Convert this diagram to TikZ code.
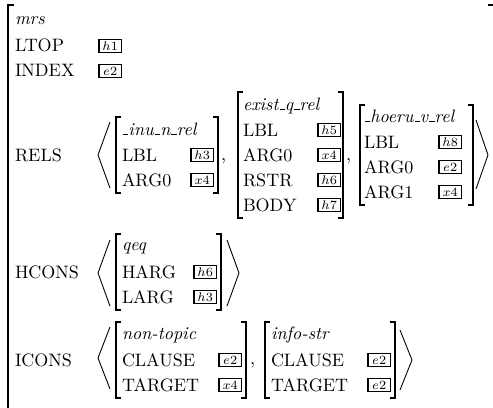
\documentclass[tikz,border=0pt]{standalone}
\makeatletter
\newcommand\us{\leavevmode\kern.06em\vbox{\hrule height 0.55pt width.3em}}
\makeatother
\tikzset{
  lab/.style={anchor=base west, inner sep=0pt, outer sep=0pt},
  typ/.style={lab, font=\itshape},
  tagbox/.style={draw, line width=0.95pt, inner sep=0.8pt, font=\scriptsize, minimum width=12.6pt, minimum height=7.2pt, anchor=west},
  brk/.style={line width=0.6pt, line cap=butt, line join=miter},
  ang/.style={line width=0.5pt, line join=miter}
}
\begin{document}
\begin{tikzpicture}[x=0.5556pt, y=-0.5556pt]
\useasboundingbox (0,0) rectangle (493,407);
% outer bracket
\draw[brk] (14,5) -- (8,5) -- (8,410);
\draw[brk] (488,5) -- (493,5);
% top rows
\node[typ] (mrs) at (15,24) {mrs};
\node[lab] (ltop) at (15,51) {LTOP};
\node[tagbox] (h1) at (98,46) {$h1$};
\node[lab] (index) at (15,76) {INDEX};
\node[tagbox] (e2a) at (98,71) {$e2$};
% RELS
\node[lab] (rels) at (15,161) {RELS};
\draw[ang] (110,122) -- (98,155) -- (110,188);
% _inu_n_rel
\draw[brk] (121,117) -- (116,117) -- (116,193) -- (121,193);
\draw[brk] (213,117) -- (218,117) -- (218,193) -- (213,193);
\node[typ] (inu) at (122,135) {\us inu\us n\us rel};
\node[lab] (inulbl) at (122,161) {LBL};
\node[tagbox] (h3a) at (190,155) {$h3$};
\node[lab] (inuarg) at (122,186) {ARG0};
\node[tagbox] (x4a) at (190,180) {$x4$};
\node[lab] (c1) at (221,160) {,};
% exist_q_rel
\draw[brk] (243,92) -- (238,92) -- (238,218) -- (243,218);
\draw[brk] (338,92) -- (343,92) -- (343,218) -- (338,218);
\node[typ] (ex) at (243,110) {exist\us q\us rel};
\node[lab] (exlbl) at (243,136) {LBL};
\node[tagbox] (h5) at (317,130) {$h5$};
\node[lab] (exarg) at (243,161) {ARG0};
\node[tagbox] (x4b) at (317,155) {$x4$};
\node[lab] (exrstr) at (243,186) {RSTR};
\node[tagbox] (h6a) at (317,180) {$h6$};
\node[lab] (exbody) at (243,211) {BODY};
\node[tagbox] (h7) at (317,205) {$h7$};
\node[lab] (c2) at (346,160) {,};
% _hoeru_v_rel
\draw[brk] (365,105) -- (360,105) -- (360,205) -- (365,205);
\draw[brk] (468,105) -- (473,105) -- (473,205) -- (468,205);
\node[typ] (ho) at (364,122) {\us hoeru\us v\us rel};
\node[lab] (holbl) at (364,148) {LBL};
\node[tagbox] (h8) at (438,142) {$h8$};
\node[lab] (hoarg0) at (364,173) {ARG0};
\node[tagbox] (e2b) at (438,167) {$e2$};
\node[lab] (hoarg1) at (364,198) {ARG1};
\node[tagbox] (x4c) at (438,192) {$x4$};
\draw[ang] (476,120) -- (488,155) -- (476,189);
% HCONS
\node[lab] (hcons) at (15,278) {HCONS};
\draw[ang] (110,240) -- (98,273) -- (110,306);
\draw[brk] (121,234) -- (116,234) -- (116,310) -- (121,310);
\draw[brk] (216,234) -- (221,234) -- (221,310) -- (216,310);
\node[typ] (qeq) at (122,250) {qeq};
\node[lab] (harg) at (122,278) {HARG};
\node[tagbox] (h6b) at (193,272) {$h6$};
\node[lab] (larg) at (122,303) {LARG};
\node[tagbox] (h3b) at (193,297) {$h3$};
\draw[ang] (227,240) -- (239,273) -- (227,306);
% ICONS
\node[lab] (icons) at (15,366) {ICONS};
\draw[ang] (110,327) -- (98,358) -- (110,389);
\draw[brk] (121,322) -- (116,322) -- (116,398) -- (121,398);
\draw[brk] (241,322) -- (246,322) -- (246,398) -- (241,398);
\node[typ] (nt) at (122,339) {non-topic};
\node[lab] (ntcl) at (122,366) {CLAUSE};
\node[tagbox] (e2c) at (218,360) {$e2$};
\node[lab] (nttg) at (122,391) {TARGET};
\node[tagbox] (x4d) at (218,385) {$x4$};
\node[lab] (c3) at (250,364) {,};
\draw[brk] (270,322) -- (265,322) -- (265,398) -- (270,398);
\draw[brk] (390,322) -- (395,322) -- (395,398) -- (390,398);
\node[typ] (is) at (271,339) {info-str};
\node[lab] (iscl) at (271,366) {CLAUSE};
\node[tagbox] (e2d) at (367,360) {$e2$};
\node[lab] (istg) at (271,391) {TARGET};
\node[tagbox] (e2e) at (367,385) {$e2$};
\draw[ang] (400,330) -- (412,360) -- (400,390);
\end{tikzpicture}
\end{document}
